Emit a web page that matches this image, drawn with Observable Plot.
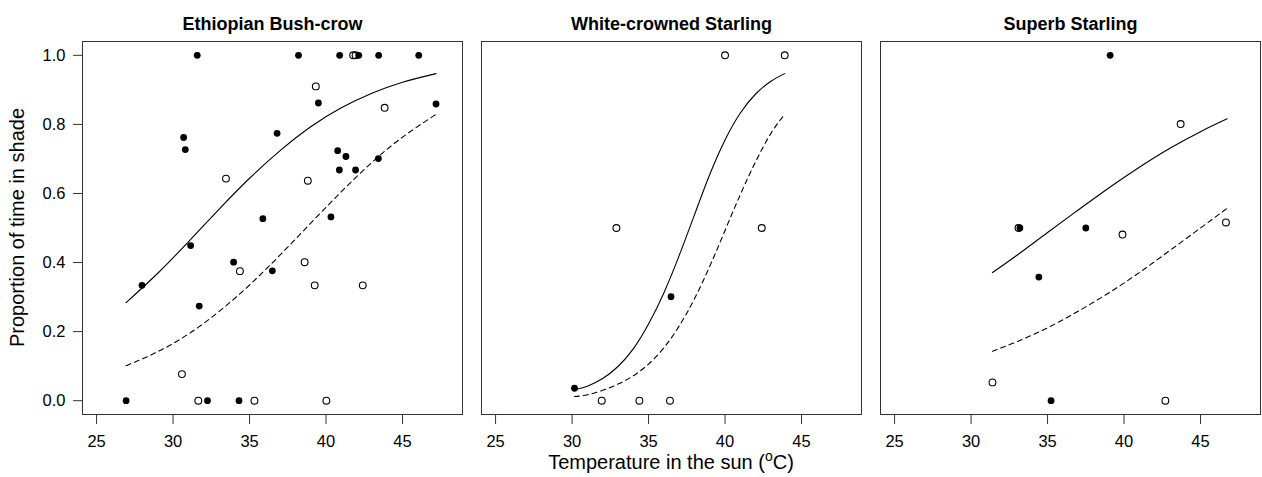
<!DOCTYPE html>
<html>
<head>
<meta charset="utf-8">
<script src="https://cdn.jsdelivr.net/npm/d3@7"></script>
<script src="https://cdn.jsdelivr.net/npm/@observablehq/plot@0.6"></script>
<style>
  html, body { margin: 0; padding: 0; background: #fff; }
  #chart { width: 1262px; height: 477px; }
</style>
</head>
<body>
<div id="chart"></div>
<script>
// ---- categories ----
const species = ["Ethiopian Bush-crow", "White-crowned Starling", "Superb Starling"];

// ---- tick labels ----
const xTicks = [25, 30, 35, 40, 45];
const yTicks = [0, 0.2, 0.4, 0.6, 0.8, 1.0];
const xLabel = ["Temperature in the sun (", "o", "C)"];
const yLabel = "Proportion of time in shade";

// ---- observations: Ethiopian Bush-crow (1 = filled, 0 = open) ----
const bushcrowTemp = [26.93, 27.97, 30.69, 30.80, 31.15, 31.58, 31.71, 32.25, 33.96, 34.31, 35.87, 36.49, 36.80,
  38.20, 39.50, 40.32, 40.76, 40.89, 40.87, 41.30, 41.93, 42.14, 43.44, 43.42, 46.06, 47.19,
  30.58, 31.65, 33.46, 34.37, 35.32, 38.60, 38.81, 39.26, 39.33, 40.02, 41.77, 41.93, 42.40, 43.83];
const bushcrowShade = [0, 0.334, 0.762, 0.727, 0.449, 1, 0.274, 0, 0.401, 0, 0.527, 0.376, 0.774,
  1, 0.862, 0.532, 0.724, 1, 0.668, 0.707, 0.668, 1, 1, 0.701, 1, 0.859,
  0.077, 0, 0.643, 0.375, 0, 0.401, 0.637, 0.334, 0.910, 0, 1, 1, 0.334, 0.848];
const bushcrowFilled = [1,1,1,1,1,1,1,1,1,1,1,1,1,1,1,1,1,1,1,1,1,1,1,1,1,1,
  0,0,0,0,0,0,0,0,0,0,0,0,0,0];

// ---- observations: White-crowned Starling ----
const whiteTemp = [30.16, 36.47, 40.00, 43.90, 32.90, 42.40, 31.94, 34.40, 36.40];
const whiteShade = [0.036, 0.301, 1, 1, 0.5, 0.5, 0, 0, 0];
const whiteFilled = [1, 1, 0, 0, 0, 0, 0, 0, 0];

// ---- observations: Superb Starling ----
const superbTemp = [39.09, 33.19, 37.50, 34.43, 35.23, 43.70, 33.10, 39.90, 46.66, 31.40, 42.70];
const superbShade = [1, 0.5, 0.5, 0.358, 0, 0.801, 0.5, 0.481, 0.516, 0.053, 0];
const superbFilled = [1, 1, 1, 1, 1, 0, 0, 0, 0, 0, 0];

// ---- fitted curves ----
const bushcrowCurveTemp = [26.93, 29, 31, 33, 35, 37, 39, 41, 43, 45, 47.19];
const bushcrowSolid  = [0.284, 0.369, 0.460, 0.554, 0.644, 0.724, 0.793, 0.848, 0.890, 0.922, 0.947];
const bushcrowDashed = [0.101, 0.142, 0.193, 0.258, 0.335, 0.422, 0.514, 0.605, 0.690, 0.763, 0.829];

const whiteCurveTemp = [30.16, 31, 32, 33, 34, 35, 36, 37, 38, 39, 40, 41, 42, 43, 43.9];
const whiteSolid  = [0.032, 0.042, 0.064, 0.099, 0.150, 0.222, 0.312, 0.420, 0.538, 0.655, 0.755, 0.833, 0.888, 0.925, 0.947];
const whiteDashed = [0.012, 0.017, 0.030, 0.048, 0.072, 0.106, 0.153, 0.216, 0.295, 0.389, 0.493, 0.597, 0.692, 0.774, 0.829];

const superbCurveTemp = [31.4, 33, 35, 37, 39, 41, 43, 45, 46.74];
const superbSolid  = [0.371, 0.421, 0.487, 0.552, 0.616, 0.676, 0.731, 0.779, 0.816];
const superbDashed = [0.143, 0.171, 0.211, 0.259, 0.312, 0.371, 0.435, 0.500, 0.557];

// ---- build tables ----
function obsRows(sp, t, s, f) { return t.map((v, i) => ({species: sp, temp: v, shade: s[i], filled: f[i]})); }
function curveRows(sp, t, a, b) { return t.map((v, i) => ({species: sp, temp: v, solid: a[i], dashed: b[i]})); }

const obs = [
  ...obsRows(species[0], bushcrowTemp, bushcrowShade, bushcrowFilled),
  ...obsRows(species[1], whiteTemp, whiteShade, whiteFilled),
  ...obsRows(species[2], superbTemp, superbShade, superbFilled)
];
const curves = [
  ...curveRows(species[0], bushcrowCurveTemp, bushcrowSolid, bushcrowDashed),
  ...curveRows(species[1], whiteCurveTemp, whiteSolid, whiteDashed),
  ...curveRows(species[2], superbCurveTemp, superbSolid, superbDashed)
];

const FONT = "'Liberation Sans', Arial, Helvetica, sans-serif";

const chart = Plot.plot({
  width: 1262,
  height: 477,
  marginLeft: 81,
  marginRight: 1,
  marginTop: 41,
  marginBottom: 63,
  style: {fontFamily: FONT, background: "#fff", color: "#000"},
  fx: {domain: species, paddingInner: 19 / 400, paddingOuter: 0, label: null},
  x: {domain: [24.08, 48.92]},
  y: {domain: [-0.04, 1.04]},
  marks: [
    Plot.frame({stroke: "#333", strokeWidth: 1}),
    Plot.axisFx({anchor: "top", tickSize: 0, tickPadding: 12, fontSize: 18, fontWeight: "bold", label: null}),
    Plot.axisX({ticks: xTicks, tickSize: 10, tickPadding: 11, fontSize: 16.5, label: null, tickFormat: d => String(d), stroke: "#333"}),
    Plot.axisY({ticks: yTicks, tickSize: 9, tickPadding: 8, fontSize: 16.5, label: null, tickFormat: d3.format(".1f"), stroke: "#333"}),
    Plot.line(curves, {fx: "species", x: "temp", y: "solid", curve: "natural", stroke: "#000", strokeWidth: 1.1}),
    Plot.line(curves, {fx: "species", x: "temp", y: "dashed", curve: "natural", stroke: "#000", strokeWidth: 1.1, strokeDasharray: "5,4"}),
    Plot.dot(obs.filter(d => !d.filled), {fx: "species", x: "temp", y: "shade", r: 3.4, stroke: "#000", fill: "none", strokeWidth: 1.1}),
    Plot.dot(obs.filter(d => d.filled), {fx: "species", x: "temp", y: "shade", r: 3.4, fill: "#000", stroke: "none"})
  ]
});

document.getElementById("chart").appendChild(chart);

// axis titles (with real superscript)
const fx = chart.scale("fx");
const ys = chart.scale("y");
const midX = fx.apply(species[1]) + fx.bandwidth / 2;
const midY = (ys.apply(ys.domain[0]) + ys.apply(ys.domain[1])) / 2;
const svg = d3.select(chart);

const xl = svg.append("text")
  .attr("x", midX).attr("y", 469)
  .attr("text-anchor", "middle")
  .attr("font-family", FONT).attr("font-size", 20).attr("fill", "#000");
xl.append("tspan").text(xLabel[0]);
xl.append("tspan").attr("dy", -8).attr("font-size", 14).text(xLabel[1]);
xl.append("tspan").attr("dy", 8).text(xLabel[2]);

svg.append("text")
  .attr("transform", `translate(24,${midY}) rotate(-90)`)
  .attr("text-anchor", "middle")
  .attr("font-family", FONT).attr("font-size", 20).attr("fill", "#000")
  .text(yLabel);
</script>
</body>
</html>
